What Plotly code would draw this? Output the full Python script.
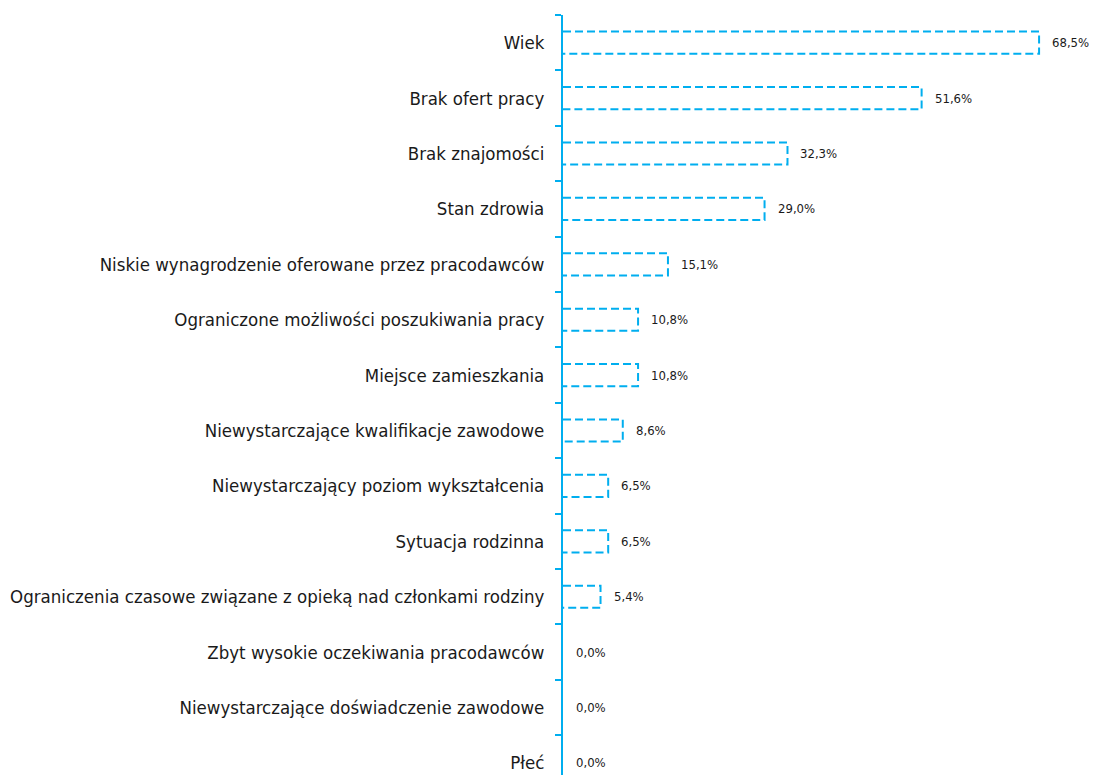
import plotly.graph_objects as go

# kategorie i wartości (%)
categories = [
    "Wiek",
    "Brak ofert pracy",
    "Brak znajomości",
    "Stan zdrowia",
    "Niskie wynagrodzenie oferowane przez pracodawców",
    "Ograniczone możliwości poszukiwania pracy",
    "Miejsce zamieszkania",
    "Niewystarczające kwalifikacje zawodowe",
    "Niewystarczający poziom wykształcenia",
    "Sytuacja rodzinna",
    "Ograniczenia czasowe związane z opieką nad członkami rodziny",
    "Zbyt wysokie oczekiwania pracodawców",
    "Niewystarczające doświadczenie zawodowe",
    "Płeć",
]
values = [68.5, 51.6, 32.3, 29.0, 15.1, 10.8, 10.8, 8.6, 6.5, 6.5, 5.4, 0.0, 0.0, 0.0]
value_labels = ["68,5%", "51,6%", "32,3%", "29,0%", "15,1%", "10,8%", "10,8%",
                "8,6%", "6,5%", "6,5%", "5,4%", "0,0%", "0,0%", "0,0%"]

BLUE = "#00AEEF"
FONT = "DejaVu Sans Condensed"
half = 0.2  # połowa wysokości słupka (w jednostkach osi)

fig = go.Figure()

# słupki jako prostokąty z przerywaną obwódką
for i, v in enumerate(values):
    if v <= 0:
        continue
    fig.add_trace(go.Scatter(
        x=[0, v, v, 0],
        y=[i - half, i - half, i + half, i + half],
        mode="lines",
        line=dict(color=BLUE, width=2, dash="8px,4px"),
        hoverinfo="skip",
        showlegend=False,
    ))

# etykiety wartości
for i, (v, lab) in enumerate(zip(values, value_labels)):
    fig.add_annotation(
        x=v, y=i, text=lab, showarrow=False,
        xanchor="left", yanchor="middle", xshift=11,
        font=dict(family=FONT, size=13, color="#1a1a1a"),
    )

# strona ma 8px marginesu body, więc figura jest o 16px mniejsza od okna
fig.update_layout(
    width=1081, height=767,
    margin=dict(l=555, r=0, t=7, b=0),
    plot_bgcolor="white", paper_bgcolor="white",
    font=dict(family=FONT, size=18.5, color="#1a1a1a"),
    showlegend=False,
)
fig.update_xaxes(
    range=[0, 526 / 6.95], visible=False, showgrid=False, zeroline=False,
)
fig.update_yaxes(
    range=[13.218, -0.5],
    tickmode="array", tickvals=list(range(len(categories))), ticktext=categories,
    ticks="outside", ticklen=13, tickcolor="rgba(0,0,0,0)",
    showline=True, linecolor=BLUE, linewidth=2,
    showgrid=False, zeroline=False, automargin=False,
    minor=dict(tickmode="array", tickvals=[k - 0.5 for k in range(len(categories))],
               ticks="outside", ticklen=6, tickcolor=BLUE, tickwidth=2, showgrid=False),
)

fig.write_html("out.html")
